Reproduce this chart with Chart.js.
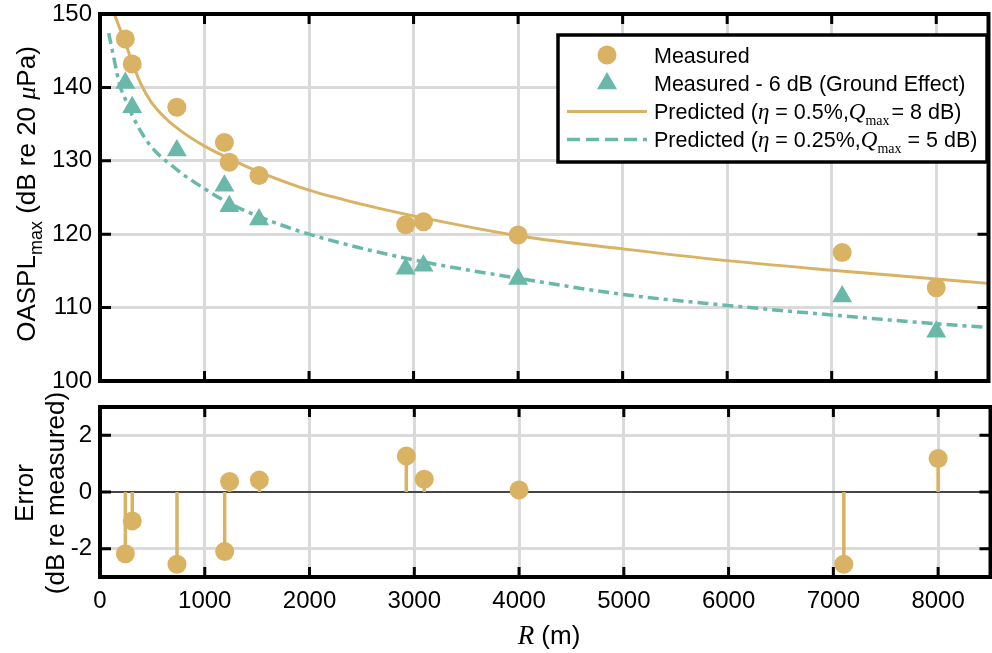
<!DOCTYPE html>
<html>
<head>
<meta charset="utf-8">
<script src="https://cdn.jsdelivr.net/npm/chart.js@4.4.1/dist/chart.umd.min.js"></script>
<style>
  html, body { margin: 0; background: #fff; overflow: hidden; }
  #wrap { position: relative; width: 992px; height: 653px; overflow: hidden; }
  canvas { position: absolute; left: 0; top: 0; }
</style>
</head>
<body>
<div id="wrap">
  <canvas id="oaspl" width="1000" height="653"></canvas>
  <canvas id="error" width="1000" height="653"></canvas>
</div>
<script>
// measured flyover points
var rMeasured = [242, 308, 735, 1190, 1237, 1521, 2924, 3095, 4000, 7100, 8000];
var oasplMeasured = [146.6, 143.2, 137.3, 132.5, 129.8, 128.0, 121.3, 121.7, 119.9, 117.5, 112.7];
var oasplGround = [140.6, 137.3, 131.4, 126.6, 123.8, 122.0, 115.3, 115.7, 113.9, 111.5, 106.7];
var errorDb = [-2.18, -1.02, -2.55, -2.10, 0.37, 0.42, 1.27, 0.45, 0.07, -2.55, 1.18];

// predicted curves
var rPredA = [137, 185, 232, 311, 390, 485, 627, 800, 1000, 1237, 1521, 2000, 2500, 3000, 4000, 5000, 6000, 7000, 8000, 8500];
var oasplPredA = [150.0, 148.2, 146.5, 143.3, 140.5, 138.1, 135.8, 133.8, 132.0, 130.3, 128.5, 126.0, 124.1, 122.5, 119.8, 118.0, 116.4, 115.1, 113.9, 113.3];
var rPredB = [83, 137, 185, 242, 308, 469, 735, 1000, 1237, 1521, 2000, 3000, 4000, 5000, 6000, 7000, 8000, 8500];
var oasplPredB = [147.4, 143.7, 140.5, 138.4, 136.2, 132.3, 128.8, 126.2, 124.2, 122.4, 120.0, 116.5, 114.0, 111.8, 110.3, 109.0, 107.8, 107.3];

// axis ticks
var rTicks = [0, 1000, 2000, 3000, 4000, 5000, 6000, 7000, 8000];
var oasplTicks = [100, 110, 120, 130, 140, 150];
var errorTicks = [-2, 0, 2];

var GOLD = '#D9B263';
var TEAL = '#6AB8A9';
var GRID = '#dadada';
var SANS = "'Liberation Sans', Arial, sans-serif";
var SERIF = "'Liberation Serif', 'DejaVu Serif', serif";

Chart.defaults.font.family = SANS;
Chart.defaults.color = '#000';

function pts(xs, ys) {
    return xs.map(function (x, i) { return { x: x, y: ys[i] }; });
}

// text made of runs with different fonts on one baseline
function runsWidth(ctx, runs) {
    var w = 0;
    runs.forEach(function (r) { ctx.font = r.f; w += ctx.measureText(r.t).width + (r.dx || 0); });
    return w;
}
function drawRuns(ctx, runs, x, y) {
    var cx = x;
    runs.forEach(function (r) {
        ctx.font = r.f;
        cx += (r.dx || 0);
        ctx.fillText(r.t, cx, y + (r.dy || 0));
        cx += ctx.measureText(r.t).width;
    });
    return cx;
}

// black box with inward ticks
var framePlugin = {
    id: 'frame',
    afterDatasetsDraw: function (chart) {
        var ctx = chart.ctx, a = chart.chartArea, sx = chart.scales.x, sy = chart.scales.y;
        ctx.save();
        ctx.strokeStyle = '#000';
        ctx.lineWidth = 3;
        ctx.beginPath();
        sx.ticks.forEach(function (t) {
            var px = sx.getPixelForValue(t.value);
            if (px <= a.left + 1 || px >= a.right - 1) return;
            ctx.moveTo(px, a.top); ctx.lineTo(px, a.top + 10);
            ctx.moveTo(px, a.bottom); ctx.lineTo(px, a.bottom - 10);
        });
        sy.ticks.forEach(function (t) {
            var py = sy.getPixelForValue(t.value);
            if (py <= a.top + 1 || py >= a.bottom - 1) return;
            ctx.moveTo(a.left, py); ctx.lineTo(a.left + 11, py);
            ctx.moveTo(a.right, py); ctx.lineTo(a.right - 11, py);
        });
        ctx.stroke();
        ctx.lineWidth = 4;
        ctx.strokeRect(a.left, a.top, a.right - a.left, a.bottom - a.top);
        ctx.restore();
    }
};

var oasplText = {
    id: 'oasplText',
    afterDraw: function (chart) {
        var ctx = chart.ctx;
        ctx.save();
        ctx.fillStyle = '#000';
        ctx.textBaseline = 'alphabetic';

        // y title
        var title = [
            { t: 'OASPL', f: '26px ' + SANS },
            { t: 'max', f: '18px ' + SANS, dy: 7 },
            { t: ' (dB re 20 ', f: '26px ' + SANS },
            { t: 'μ', f: 'italic 26px ' + SERIF },
            { t: 'Pa)', f: '26px ' + SANS }
        ];
        ctx.save();
        ctx.translate(35, 194);
        ctx.rotate(-Math.PI / 2);
        drawRuns(ctx, title, -runsWidth(ctx, title) / 2, 0);
        ctx.restore();

        // legend
        var bx = 558, by = 35, bw = 429, bh = 127;
        ctx.fillStyle = '#fff';
        ctx.fillRect(bx, by, bw, bh);
        ctx.strokeStyle = '#000';
        ctx.lineWidth = 3.5;
        ctx.strokeRect(bx, by, bw, bh);

        var rows = [55, 83.5, 111.5, 139.5];
        var mx = 607, tx = 654;
        ctx.fillStyle = GOLD;
        ctx.beginPath(); ctx.arc(mx, rows[0], 9.5, 0, Math.PI * 2); ctx.fill();
        ctx.fillStyle = TEAL;
        ctx.beginPath();
        ctx.moveTo(mx, rows[1] - 11.5);
        ctx.lineTo(mx + 10, rows[1] + 5.75);
        ctx.lineTo(mx - 10, rows[1] + 5.75);
        ctx.closePath(); ctx.fill();
        ctx.lineWidth = 3;
        ctx.strokeStyle = GOLD;
        ctx.beginPath(); ctx.moveTo(567, rows[2]); ctx.lineTo(647, rows[2]); ctx.stroke();
        ctx.strokeStyle = TEAL;
        ctx.lineWidth = 3.5;
        ctx.setLineDash([13, 6]);
        ctx.beginPath(); ctx.moveTo(567, rows[3]); ctx.lineTo(647, rows[3]); ctx.stroke();
        ctx.setLineDash([]);

        ctx.fillStyle = '#000';
        var f = '21.5px ' + SANS, fi = 'italic 23px ' + SERIF, fs = '14px ' + SERIF;
        var base = 7.5;
        drawRuns(ctx, [{ t: 'Measured', f: f }], tx, rows[0] + base);
        drawRuns(ctx, [{ t: 'Measured - 6 dB (Ground Effect)', f: f }], tx, rows[1] + base);
        drawRuns(ctx, [
            { t: 'Predicted (', f: f }, { t: 'η', f: fi }, { t: ' = 0.5%,', f: f },
            { t: 'Q', f: fi }, { t: 'max', f: fs, dy: 6 }, { t: '= 8 dB)', f: f, dx: 2 }
        ], tx, rows[2] + base);
        drawRuns(ctx, [
            { t: 'Predicted (', f: f }, { t: 'η', f: fi }, { t: ' = 0.25%,', f: f },
            { t: 'Q', f: fi }, { t: 'max', f: fs, dy: 6 }, { t: ' = 5 dB)', f: f }
        ], tx, rows[3] + base);
        ctx.restore();
    }
};

var errorText = {
    id: 'errorText',
    afterDraw: function (chart) {
        var ctx = chart.ctx;
        ctx.save();
        ctx.fillStyle = '#000';
        ctx.textBaseline = 'alphabetic';
        ctx.save();
        ctx.translate(0, 493);
        ctx.rotate(-Math.PI / 2);
        ctx.font = '26px ' + SANS;
        ctx.textAlign = 'center';
        ctx.fillText('Error', 0, 33);
        ctx.fillText('(dB re measured)', 0, 64);
        ctx.restore();

        var xt = [{ t: 'R', f: 'italic 27px ' + SERIF }, { t: ' (m)', f: '26px ' + SANS }];
        drawRuns(ctx, xt, 549 - runsWidth(ctx, xt) / 2, 644);
        ctx.restore();
    }
};

function setTicks(values) {
    return function (scale) {
        scale.ticks = values.map(function (v) { return { value: v }; });
    };
}
function plainLabel(v) { return String(v); }

new Chart(document.getElementById('oaspl'), {
    type: 'scatter',
    data: {
        datasets: [{
            label: 'Measured',
            data: pts(rMeasured, oasplMeasured),
            pointStyle: 'circle',
            pointRadius: 9.5,
            pointBackgroundColor: GOLD,
            pointBorderWidth: 0
        }, {
            label: 'Measured - 6 dB (Ground Effect)',
            data: pts(rMeasured, oasplGround),
            pointStyle: 'triangle',
            pointRadius: 11.5,
            pointBackgroundColor: TEAL,
            pointBorderWidth: 0
        }, {
            label: 'Predicted (0.5%, 8 dB)',
            data: pts(rPredA, oasplPredA),
            showLine: true,
            pointRadius: 0,
            borderColor: GOLD,
            borderWidth: 3,
            cubicInterpolationMode: 'monotone'
        }, {
            label: 'Predicted (0.25%, 5 dB)',
            data: pts(rPredB, oasplPredB),
            showLine: true,
            pointRadius: 0,
            borderColor: TEAL,
            borderWidth: 3.5,
            borderDash: [11, 5, 4, 5],
            cubicInterpolationMode: 'monotone'
        }]
    },
    options: {
        responsive: false,
        animation: false,
        devicePixelRatio: 1,
        layout: { padding: { top: 14, right: 3, left: 0, bottom: 0 } },
        plugins: { legend: { display: false }, tooltip: { enabled: false } },
        scales: {
            x: {
                type: 'linear', min: 0, max: 8500,
                afterBuildTicks: setTicks(rTicks),
                afterFit: function (s) { s.height = 272; s.paddingLeft = 0; s.paddingRight = 0; },
                ticks: { display: false },
                border: { display: false },
                grid: {
                    drawTicks: false, lineWidth: 3,
                    color: function (c) { return c.tick && c.tick.value === 0 ? 'rgba(0,0,0,0)' : GRID; }
                }
            },
            y: {
                type: 'linear', min: 100, max: 150,
                afterBuildTicks: setTicks(oasplTicks),
                afterFit: function (s) { s.width = 100; s.paddingTop = 0; s.paddingBottom = 0; },
                ticks: { font: { size: 24 }, color: '#000', padding: 8, callback: plainLabel },
                border: { display: false },
                grid: {
                    drawTicks: false, lineWidth: 3,
                    color: function (c) {
                        var v = c.tick && c.tick.value;
                        return (v === 100 || v === 150) ? 'rgba(0,0,0,0)' : GRID;
                    }
                }
            }
        }
    },
    plugins: [framePlugin, oasplText]
});

// stems: 0 -> error, broken with nulls
var stemData = [];
rMeasured.forEach(function (r, i) {
    stemData.push({ x: r, y: 0 }, { x: r, y: errorDb[i] }, { x: r, y: null });
});

new Chart(document.getElementById('error'), {
    type: 'scatter',
    data: {
        datasets: [{
            label: 'Error',
            data: pts(rMeasured, errorDb),
            pointStyle: 'circle',
            pointRadius: 9.5,
            pointBackgroundColor: GOLD,
            pointBorderWidth: 0
        }, {
            label: 'stems',
            data: stemData,
            showLine: true,
            spanGaps: false,
            pointRadius: 0,
            borderColor: GOLD,
            borderWidth: 3.5
        }]
    },
    options: {
        responsive: false,
        animation: false,
        devicePixelRatio: 1,
        layout: { padding: { top: 407, right: 3, left: 0, bottom: 0 } },
        plugins: { legend: { display: false }, tooltip: { enabled: false } },
        scales: {
            x: {
                type: 'linear', min: 0, max: 8500,
                afterBuildTicks: setTicks(rTicks),
                afterFit: function (s) { s.height = 76; s.paddingLeft = 0; s.paddingRight = 0; },
                ticks: { font: { size: 24 }, color: '#000', padding: 10, maxRotation: 0, autoSkip: false, callback: plainLabel },
                border: { display: false },
                grid: {
                    drawTicks: false, lineWidth: 3,
                    color: function (c) { return c.tick && c.tick.value === 0 ? 'rgba(0,0,0,0)' : GRID; }
                }
            },
            y: {
                type: 'linear', min: -3, max: 3,
                afterBuildTicks: setTicks(errorTicks),
                afterFit: function (s) { s.width = 100; s.paddingTop = 0; s.paddingBottom = 0; },
                ticks: { font: { size: 24 }, color: '#000', padding: 8, callback: plainLabel },
                border: { display: false },
                grid: {
                    drawTicks: false,
                    lineWidth: function (c) { return c.tick && c.tick.value === 0 ? 2 : 3; },
                    color: function (c) { return c.tick && c.tick.value === 0 ? '#454545' : GRID; }
                }
            }
        }
    },
    plugins: [framePlugin, errorText]
});
</script>
</body>
</html>
